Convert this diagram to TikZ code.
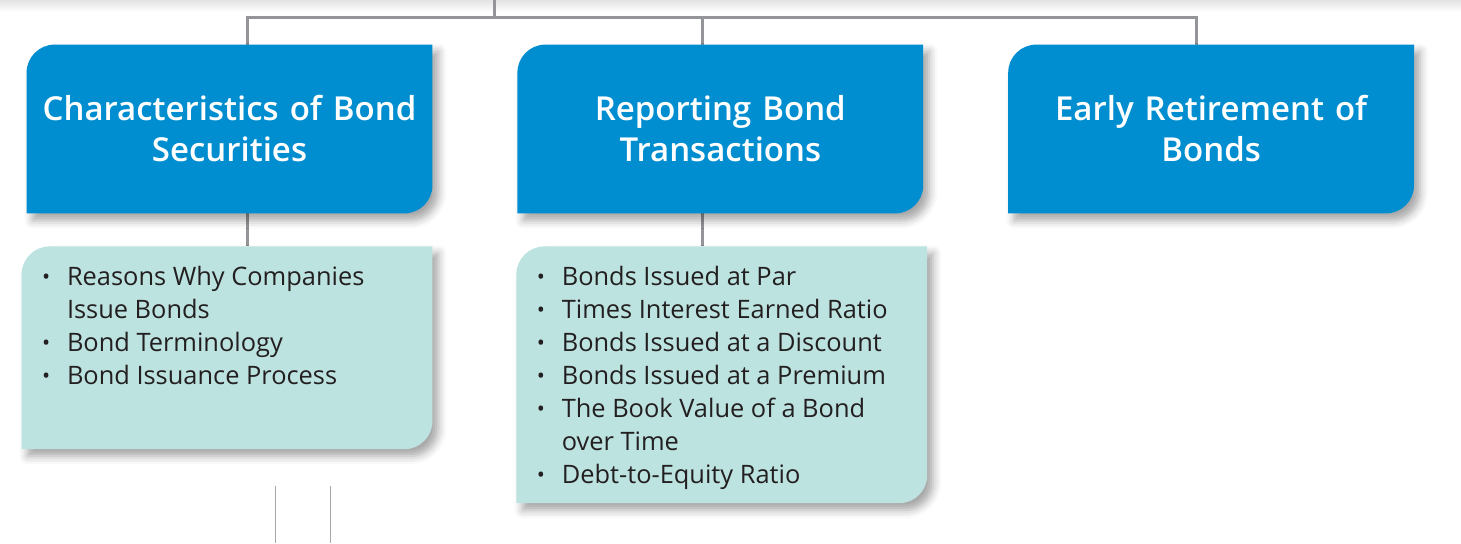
\documentclass[tikz,border=0pt]{standalone}
\usepackage{fontspec}
\setmainfont{Open Sans}
\newfontfamily\headfont{Open Sans}[UprightFont=* Semibold]
\usetikzlibrary{positioning,backgrounds,shadows.blur}

\definecolor{headblue}{RGB}{0,142,208}
\definecolor{topicteal}{RGB}{188,227,224}
\definecolor{linegray}{RGB}{147,149,152}
\definecolor{textdark}{RGB}{35,31,32}

% small list bullet
\newcommand{\dotmark}{\raisebox{0.4pt}{\scalebox{0.85}{\textbullet}}}

% tab shape: round top-left and bottom-right corners only
\newcommand{\tabshape}[2]{%
  \fill[#2, blur shadow={shadow xshift=3pt, shadow yshift=-3.5pt,
        shadow blur radius=4pt, shadow opacity=35}]
    (#1.north east) -- ([xshift=14pt]#1.north west)
    arc[start angle=90, end angle=180, radius=14pt]
    -- (#1.south west) -- ([xshift=-14pt]#1.south east)
    arc[start angle=270, end angle=360, radius=14pt]
    -- cycle;}

\begin{document}
\begin{tikzpicture}[
    x=0.5pt, y=0.5pt,
    head/.style={
        minimum width=202.5pt,
        minimum height=84pt,
        inner sep=0pt,
        text width=195pt,
        align=center,
        text=white,
        font=\headfont\fontsize{16.5}{20.5}\selectfont
    },
    topics/.style={minimum width=205pt, inner sep=0pt},
    list/.style={anchor=base west, inner sep=0pt, text=textdark,
        font=\fontsize{12.7}{16.5}\selectfont},
    link/.style={draw=linegray, line width=1.5pt},
    cropmark/.style={draw=gray!70, line width=0.5pt}
]
\useasboundingbox (0,0) rectangle (1461,-543);

% ============================================================
% CHAPTER PARTS
% ============================================================
\node[head] (chars) at (229.5,-129) {Characteristics of Bond\\Securities};
\node[head, right=42.5pt of chars] (report) {Reporting Bond\\Transactions};
\node[head, right=42.5pt of report] (retire) {Early Retirement of\\Bonds};

\node[topics, minimum height=101pt, below=16.5pt of chars, xshift=-1.25pt] (charlist) {};
\node[topics, minimum height=128pt, below=16.5pt of report, xshift=0.75pt] (replist) {};

\node[list] (chartext) at ([shift={(10pt,-19.5pt)}]charlist.north west) {%
  \begin{tabular}[t]{@{}p{12.5pt}@{}l@{}}
  \dotmark & Reasons Why Companies\\
           & Issue Bonds\\
  \dotmark & Bond Terminology\\
  \dotmark & Bond Issuance Process
  \end{tabular}};
\node[list] (reptext) at ([shift={(10pt,-19.5pt)}]replist.north west) {%
  \begin{tabular}[t]{@{}p{12.5pt}@{}l@{}}
  \dotmark & Bonds Issued at Par\\
  \dotmark & Times Interest Earned Ratio\\
  \dotmark & Bonds Issued at a Discount\\
  \dotmark & Bonds Issued at a Premium\\
  \dotmark & The Book Value of a Bond\\
           & over Time\\
  \dotmark & Debt-to-Equity Ratio
  \end{tabular}};

% ============================================================
% SHAPES + CONNECTORS
% ============================================================
\begin{pgfonlayer}{background}
\shade[top color=gray!22, bottom color=white] (0,0) rectangle (1461,-12);
\coordinate (root) at (494,0);
\coordinate (bus) at (494,-17);
\draw[link] (root) -- (bus);
\draw[link] ([xshift=8.75pt]chars.north) |- (bus) -| ([xshift=-7.5pt]retire.north);
\draw[link] ([xshift=-8.75pt]report.north) |- (bus);
\draw[link] ([xshift=8.75pt]chars.south) -- ([xshift=10pt]charlist.north);
\draw[link] ([xshift=-8.75pt]report.south) -- ([xshift=-9.5pt]replist.north);

\tabshape{chars}{headblue}
\tabshape{report}{headblue}
\tabshape{retire}{headblue}
\tabshape{charlist}{topicteal}
\tabshape{replist}{topicteal}
\end{pgfonlayer}

\draw[cropmark] (275,-486) -- (275,-543);
\draw[cropmark] (330,-486) -- (330,-543);

\end{tikzpicture}
\end{document}
